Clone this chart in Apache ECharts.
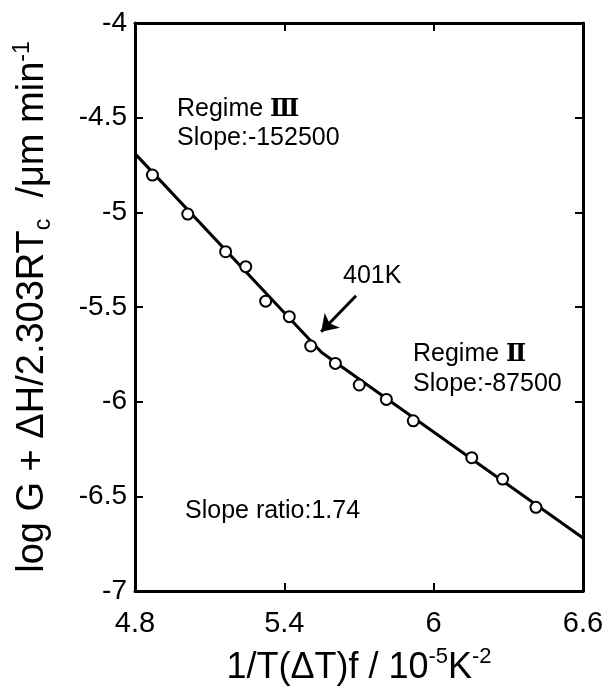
<!DOCTYPE html>
<html>
<head>
<meta charset="utf-8">
<script src="https://cdn.jsdelivr.net/npm/echarts@6/dist/echarts.min.js"></script>
<style>
html,body{margin:0;padding:0;background:#fff;}
#chart{width:607px;height:692px;}
</style>
</head>
<body>
<div id="chart"></div>
<script>
// ---- data ----
var pointsX = [4.870, 5.012, 5.164, 5.245, 5.325, 5.420, 5.506, 5.605, 5.701, 5.810, 5.918, 6.153, 6.277, 6.411];
var pointsY = [-4.803, -5.009, -5.208, -5.287, -5.469, -5.551, -5.706, -5.798, -5.912, -5.988, -6.101, -6.296, -6.409, -6.558];
var fitX = [4.8, 5.55, 6.6];
var fitY = [-4.69, -5.74, -6.72];
var arrowFrom = [5.688, -5.441];
var arrowTo = [5.548, -5.631];
var xTickLabels = ['4.8', '5.4', '6', '6.6'];
var yTickLabels = ['-7', '-6.5', '-6', '-5.5', '-5', '-4.5', '-4'];
var xTickValues = [4.8, 5.4, 6.0, 6.6];
var yTickValues = [-7, -6.5, -6, -5.5, -5, -4.5, -4];

function pick(values, labels, v) {
  for (var i = 0; i < values.length; i++) {
    if (Math.abs(values[i] - v) < 1e-6) return labels[i];
  }
  return '';
}

var FONT = '"Liberation Sans", Arial, Helvetica, sans-serif';
var SERIF = '"DejaVu Serif", "Liberation Serif", serif';
var chart = echarts.init(document.getElementById('chart'), null, {renderer: 'canvas'});

var axisLine = {show: true, onZero: false, lineStyle: {color: '#000', width: 3}};
var axisTick = {show: true, inside: true, length: 8, lineStyle: {color: '#000', width: 2}};

var annoRich = {
  rn: {fontFamily: SERIF, fontSize: 24, fontWeight: 'bold', color: '#000'}
};
function anno(left, top, text) {
  return {type: 'text', left: left, top: top,
    style: {text: text, fontFamily: FONT, fontSize: 25, fill: '#000', rich: annoRich}};
}

var option = {
  backgroundColor: '#fff',
  animation: false,
  textStyle: {fontFamily: FONT},
  grid: {left: 135, right: 24, top: 23, bottom: 101, containLabel: false, outerBoundsMode: 'none'},
  xAxis: [{
    type: 'value', position: 'bottom', min: 4.8, max: 6.6, interval: 0.6,
    axisLine: axisLine, axisTick: axisTick, splitLine: {show: false},
    axisLabel: {color: '#000', fontSize: 29, fontFamily: FONT, margin: 18,
      formatter: function (v) { return pick(xTickValues, xTickLabels, v); }},
    name: '1/T(ΔT)f / 10{sup|-5}K{sup|-2}',
    nameLocation: 'middle', nameGap: 55,
    nameTextStyle: {color: '#000', fontSize: 36, fontFamily: FONT, lineHeight: 44,
      rich: {sup: {fontSize: 22, lineHeight: 14, verticalAlign: 'top', color: '#000', fontFamily: FONT}}}
  }, {
    type: 'value', position: 'top', min: 4.8, max: 6.6, interval: 0.6,
    axisLine: axisLine, axisTick: axisTick, splitLine: {show: false},
    axisLabel: {show: false}
  }],
  yAxis: [{
    type: 'value', position: 'left', min: -7, max: -4, interval: 0.5,
    axisLine: axisLine, axisTick: axisTick, splitLine: {show: false},
    axisLabel: {color: '#000', fontSize: 28, fontFamily: FONT, margin: 8,
      formatter: function (v) { return pick(yTickValues, yTickLabels, v); }},
    name: 'log G + ΔH/2.303RT{sub|c}  /μm min{sup|-1}',
    nameLocation: 'middle', nameGap: 80, nameRotate: 90,
    nameTextStyle: {color: '#000', fontSize: 38, fontFamily: FONT, lineHeight: 44,
      rich: {
        sup: {fontSize: 23, lineHeight: 14, verticalAlign: 'top', color: '#000', fontFamily: FONT},
        sub: {fontSize: 23, lineHeight: 28, verticalAlign: 'bottom', color: '#000', fontFamily: FONT}
      }}
  }, {
    type: 'value', position: 'right', min: -7, max: -4, interval: 0.5,
    axisLine: axisLine, axisTick: axisTick, splitLine: {show: false},
    axisLabel: {show: false}
  }],
  series: [{
    type: 'line',
    data: fitX.map(function (x, i) { return [x, fitY[i]]; }),
    symbol: 'none',
    lineStyle: {color: '#000', width: 3},
    z: 2,
    markLine: {
      silent: true,
      symbol: ['none', 'arrow'],
      symbolSize: [16, 16],
      lineStyle: {color: '#000', width: 3, type: 'solid'},
      label: {show: false},
      data: [[{coord: arrowFrom}, {coord: arrowTo}]]
    }
  }, {
    type: 'scatter',
    data: pointsX.map(function (x, i) { return [x, pointsY[i]]; }),
    symbol: 'circle',
    symbolSize: 11,
    itemStyle: {color: '#fff', borderColor: '#000', borderWidth: 2, opacity: 1},
    z: 3
  }],
  graphic: [
    anno(177, 97, 'Regime {rn|Ⅲ}'),
    anno(177, 126, 'Slope:-152500'),
    anno(343, 264, '401K'),
    anno(413, 342, 'Regime {rn|Ⅱ}'),
    anno(413, 372, 'Slope:-87500'),
    anno(185, 499, 'Slope ratio:1.74')
  ]
};
chart.setOption(option);
</script>
</body>
</html>
